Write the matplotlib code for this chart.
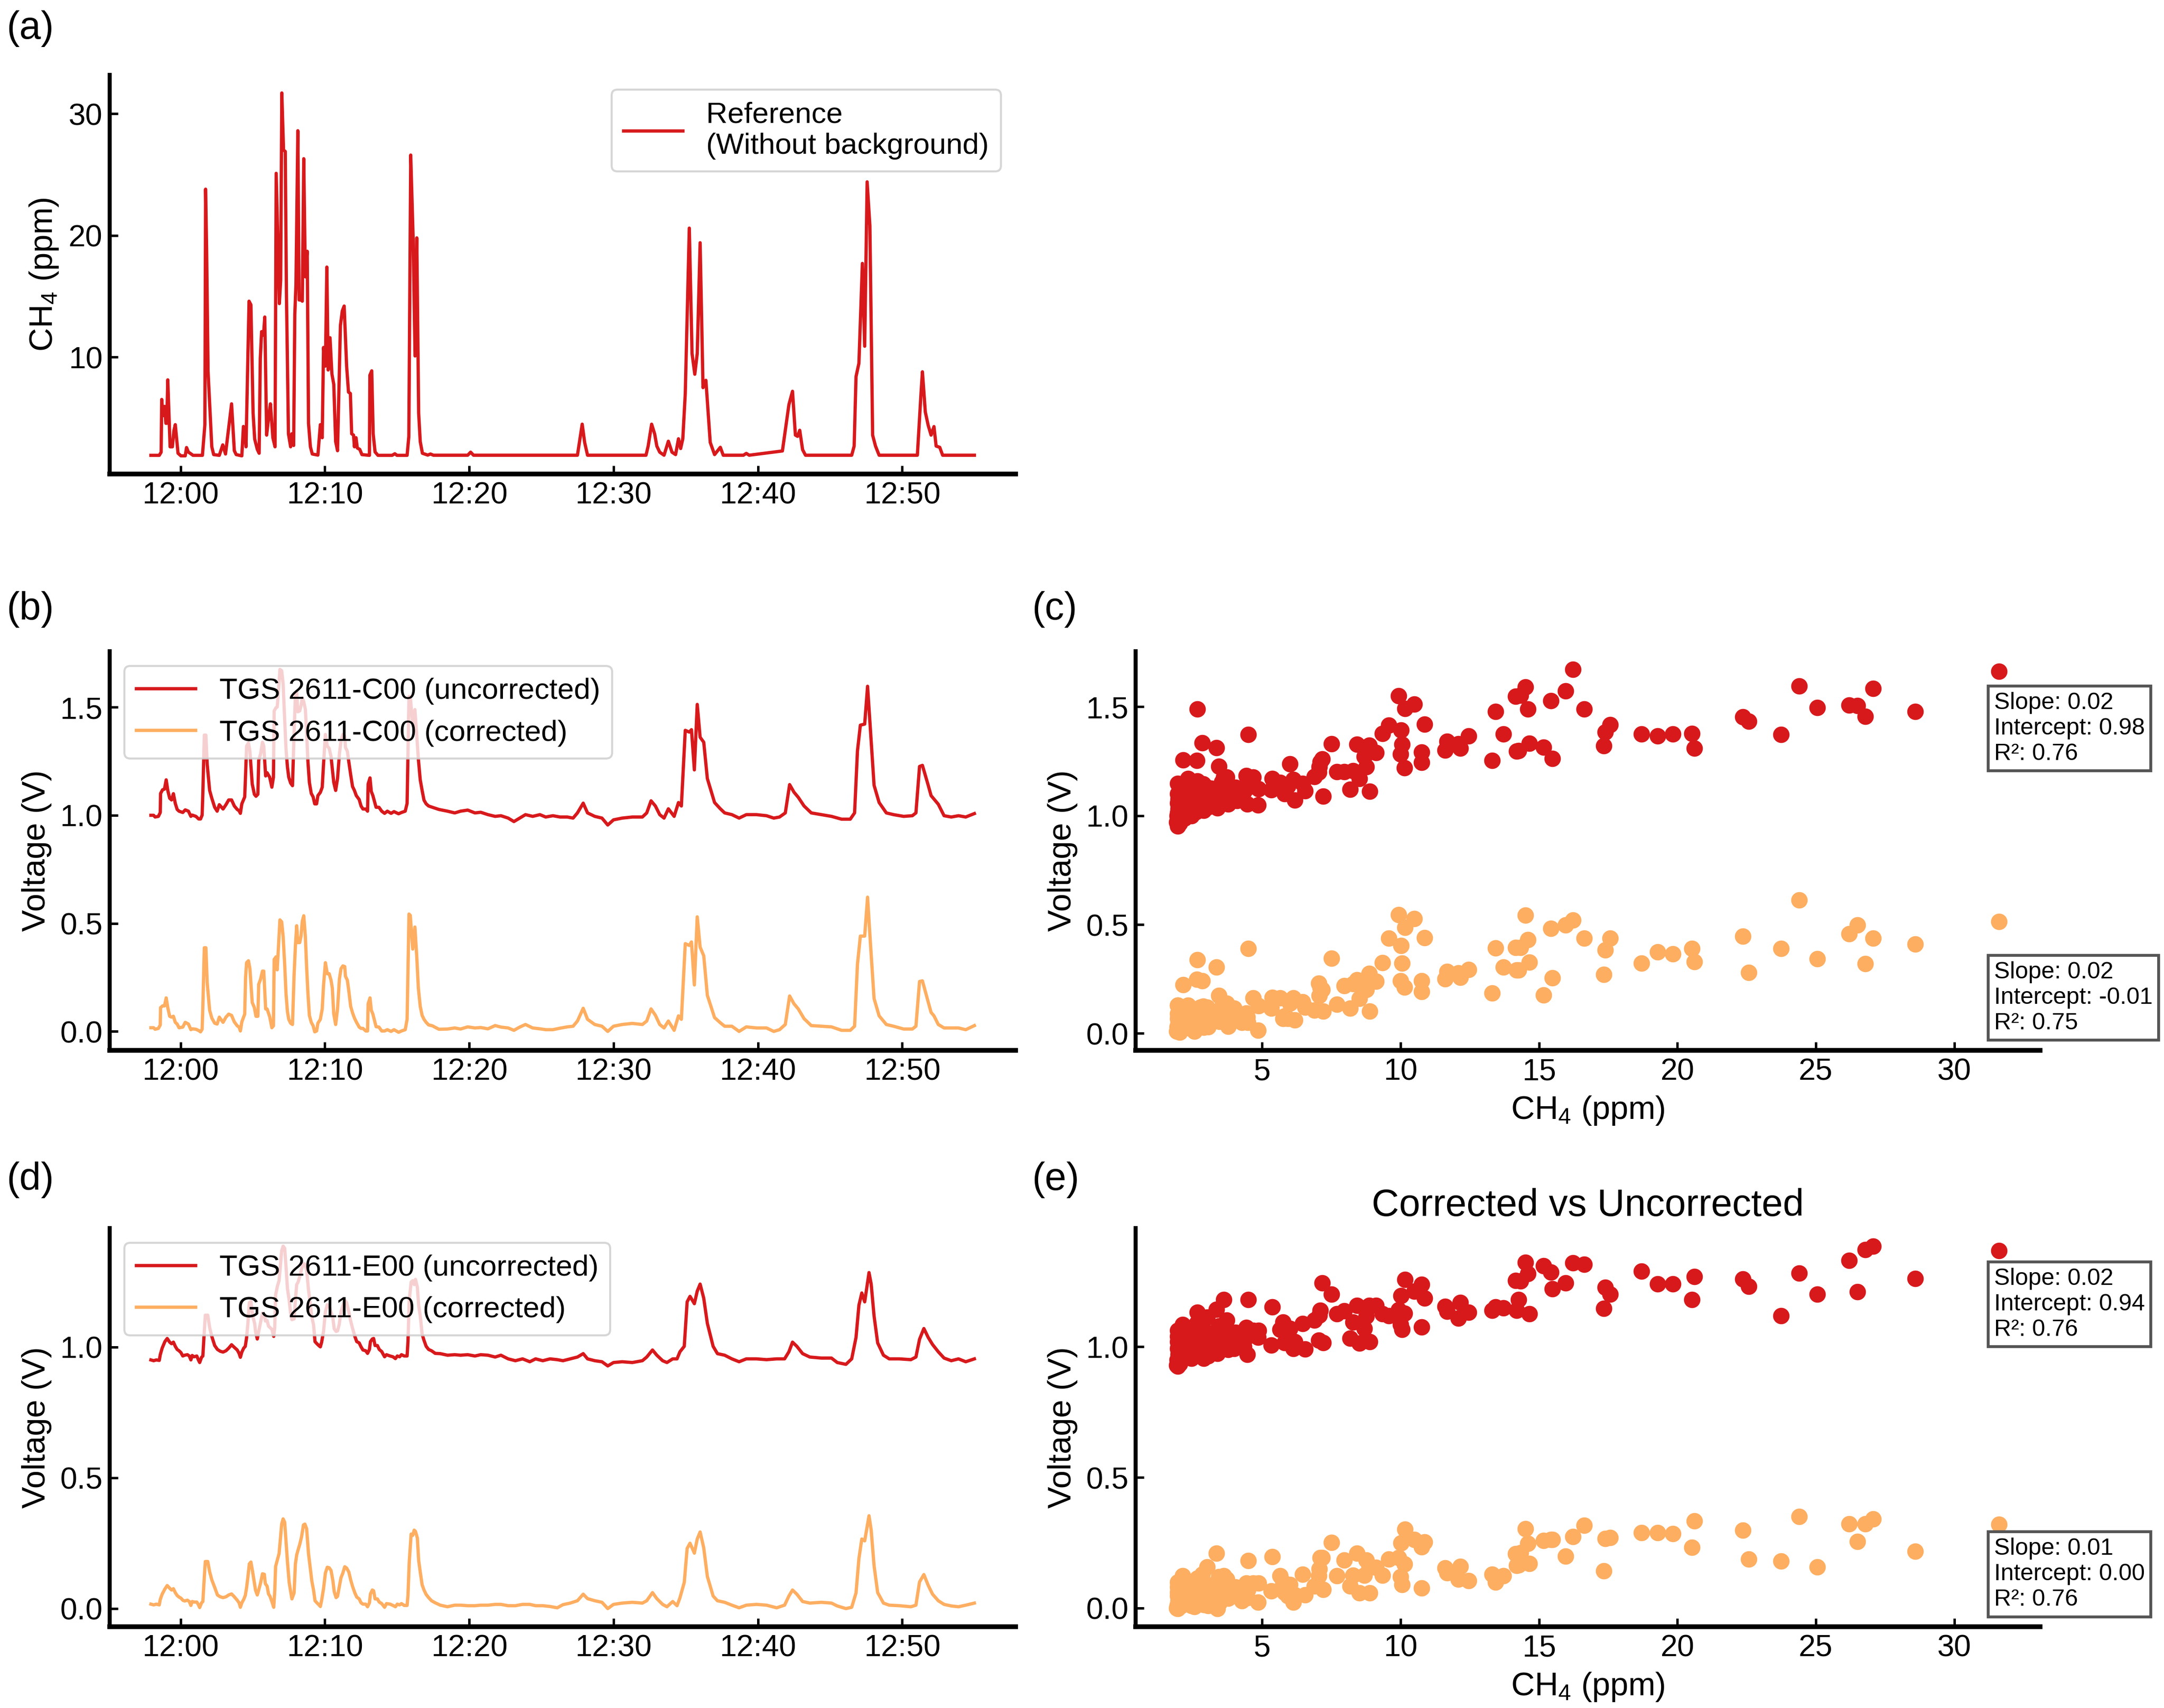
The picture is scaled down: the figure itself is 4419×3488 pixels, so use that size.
import numpy as np
import pandas as pd
import matplotlib
matplotlib.use("Agg")
import matplotlib.pyplot as plt
import matplotlib.dates as mdates
from matplotlib.ticker import MultipleLocator

plt.rcParams['font.family'] = ['Liberation Sans', 'DejaVu Sans']
plt.rcParams['mathtext.fontset'] = 'custom'
plt.rcParams['mathtext.rm'] = 'Liberation Sans'
plt.rcParams['mathtext.it'] = 'Liberation Sans:italic'
plt.rcParams['mathtext.bf'] = 'Liberation Sans:bold'

RED = '#d7191c'
ORANGE = '#fdae61'

# ---- reference CH4 (minutes after 12:00, ppm) ----
T_CH4 = [-2.05, -1.47, -1.34, -1.30, -1.21, -1.10, -1.01, -0.95, -0.88, -0.72,
         -0.56, -0.46, -0.36, -0.23, -0.17, 0.03, 0.33, 0.42, 0.55, 0.68,
         0.87, 1.52, 1.69, 1.74, 1.81, 1.91, 2.17, 2.30, 2.69, 2.93,
         3.12, 3.54, 3.73, 3.86, 4.25, 4.36, 4.45, 4.54, 4.75, 4.88,
         5.03, 5.14, 5.32, 5.45, 5.53, 5.62, 5.75, 5.84, 5.97, 6.10,
         6.23, 6.40, 6.55, 6.63, 6.75, 6.85, 6.94, 7.02, 7.14, 7.26,
         7.34, 7.48, 7.63, 7.71, 7.84, 7.92, 8.00, 8.13, 8.22, 8.35,
         8.44, 8.54, 8.65, 8.78, 8.87, 9.00, 9.13, 9.52, 9.69, 9.82,
         9.91, 10.04, 10.14, 10.23, 10.36, 10.49, 10.62, 10.75, 10.88, 11.08,
         11.21, 11.34, 11.51, 11.64, 11.77, 11.86, 11.99, 12.05, 12.16, 12.25,
         12.42, 12.57, 13.09, 13.12, 13.25, 13.35, 13.48, 13.68, 14.66, 14.85,
         15.00, 15.70, 15.82, 15.95, 16.12, 16.25, 16.37, 16.50, 16.61, 16.76,
         17.13, 17.32, 17.52, 19.90, 20.10, 20.30, 27.50, 27.83, 28.00, 28.20,
         32.25, 32.40, 32.64, 32.85, 33.00, 33.20, 33.50, 33.80, 34.05, 34.30,
         34.50, 34.65, 34.80, 34.97, 35.25, 35.44, 35.63, 35.80, 36.00, 36.20,
         36.40, 36.70, 37.00, 37.40, 37.60, 39.00, 39.20, 39.40, 41.70, 42.15,
         42.40, 42.60, 42.75, 42.90, 43.10, 43.30, 46.50, 46.67, 46.80, 47.00,
         47.24, 47.40, 47.57, 47.76, 47.95, 48.15, 48.40, 51.05, 51.30, 51.40,
         51.60, 51.80, 52.00, 52.20, 52.35, 52.60, 52.80, 55.00]
CH4 = [1.94, 1.94, 2.2, 6.53, 5.2, 5.96, 4.57, 4.57, 8.14, 2.64,
       2.64, 3.93, 4.46, 2.86, 2.11, 1.9, 1.9, 2.58, 2.2, 2.1,
       1.94, 1.94, 4.46, 23.8, 18.9, 8.84, 2.64, 2.0, 1.94, 2.8,
       2.05, 6.17, 2.32, 2.0, 1.9, 4.31, 4.14, 2.64, 14.6, 14.3,
       5.42, 3.28, 2.43, 2.11, 9.91, 12.1, 11.8, 13.3, 3.6, 5.0,
       6.17, 3.39, 2.64, 25.1, 19.3, 14.4, 16.3, 31.7, 27.0, 26.9,
       15.3, 3.71, 2.64, 3.71, 2.75, 13.5, 16.0, 28.6, 14.7, 14.7,
       14.6, 26.3, 16.6, 18.7, 4.57, 2.64, 2.05, 1.96, 4.46, 3.39,
       10.8, 9.27, 17.4, 8.95, 11.6, 8.63, 7.77, 3.07, 2.32, 12.6,
       13.8, 14.2, 9.27, 7.13, 7.02, 3.71, 3.6, 2.64, 3.39, 2.54,
       2.43, 2.0, 1.94, 8.52, 8.88, 3.71, 2.22, 1.94, 1.94, 2.07,
       1.94, 1.94, 3.5, 26.6, 19.7, 10.1, 19.8, 5.42, 3.07, 2.11,
       1.96, 2.05, 1.95, 1.95, 2.2, 1.95, 1.95, 4.5, 3.0, 1.95,
       1.95, 2.7, 4.5, 3.7, 2.7, 2.2, 1.95, 3.1, 2.2, 2.0,
       3.3, 2.5, 3.3, 7.0, 20.6, 10.3, 8.6, 10.3, 19.4, 7.5,
       8.1, 3.0, 2.0, 2.6, 1.95, 1.95, 2.1, 1.95, 2.3, 6.1,
       7.2, 3.6, 3.5, 4.0, 2.4, 1.95, 1.95, 2.7, 8.4, 9.5,
       17.7, 10.9, 24.4, 20.8, 3.6, 2.7, 1.95, 1.95, 7.0, 8.8,
       5.5, 4.4, 3.6, 4.3, 2.7, 2.6, 1.95, 1.95]

# ---- TGS 2611-C00 (V) ----
T_C00 = [-2.05, -1.86, -1.76, -1.53, -1.40, -1.38, -1.24, -1.11, -0.99, -0.88,
         -0.75, -0.62, -0.49, -0.36, -0.23, -0.10, 0.16, 0.33, 0.55, 0.72,
         0.81, 1.07, 1.26, 1.39, 1.50, 1.55, 1.65, 1.76, 1.85, 2.02,
         2.17, 2.37, 2.54, 2.69, 2.95, 3.15, 3.34, 3.54, 3.73, 3.93,
         4.06, 4.15, 4.25, 4.45, 4.51, 4.58, 4.71, 4.81, 4.97, 5.12,
         5.23, 5.36, 5.42, 5.55, 5.68, 5.77, 5.90, 6.00, 6.18, 6.33,
         6.44, 6.49, 6.62, 6.70, 6.79, 6.89, 7.01, 7.11, 7.22, 7.31,
         7.41, 7.50, 7.63, 7.76, 7.87, 7.96, 8.05, 8.13, 8.26, 8.35,
         8.44, 8.54, 8.65, 8.74, 8.83, 8.93, 9.06, 9.19, 9.30, 9.43,
         9.52, 9.69, 9.82, 9.91, 10.04, 10.17, 10.30, 10.43, 10.52, 10.62,
         10.75, 10.88, 11.01, 11.12, 11.25, 11.38, 11.43, 11.56, 11.66, 11.79,
         11.92, 12.05, 12.18, 12.38, 12.51, 12.64, 12.84, 12.96, 13.00, 13.13,
         13.22, 13.33, 13.55, 13.75, 13.94, 14.14, 14.33, 14.59, 14.79, 15.11,
         15.31, 15.57, 15.70, 15.83, 15.92, 16.09, 16.24, 16.37, 16.48, 16.61,
         16.74, 16.87, 17.02, 17.19, 17.45, 17.9, 18.5, 19.0, 19.4, 19.9,
         20.4, 20.8, 21.3, 21.8, 22.2, 22.7, 23.1, 23.5, 23.9, 24.4,
         24.9, 25.3, 25.8, 26.3, 26.8, 27.2, 27.5, 27.9, 28.2, 28.7,
         29.2, 29.6, 30.0, 30.6, 31.3, 32.0, 32.3, 32.6, 32.9, 33.2,
         33.5, 33.8, 34.2, 34.5, 34.7, 34.97, 35.25, 35.4, 35.6, 35.8,
         36.0, 36.25, 36.5, 37.0, 37.4, 37.7, 38.2, 38.7, 39.2, 39.9,
         40.6, 41.1, 41.5, 41.9, 42.2, 42.5, 42.8, 43.2, 43.7, 44.4,
         45.1, 45.8, 46.4, 46.7, 46.9, 47.1, 47.4, 47.6, 47.8, 48.05,
         48.4, 48.9, 49.4, 50.1, 50.7, 50.95, 51.2, 51.4, 51.8, 52.0,
         52.2, 52.5, 52.9, 53.4, 53.9, 54.4, 55.0]
C00_UNC = [1.000, 1.000, 0.992, 0.995, 1.013, 1.101, 1.118, 1.121, 1.164, 1.115,
           1.079, 1.071, 1.100, 1.055, 1.027, 1.019, 1.013, 1.025, 1.019, 0.995,
           1.001, 0.995, 0.983, 0.983, 1.001, 1.103, 1.371, 1.371, 1.236, 1.115,
           1.079, 1.037, 1.019, 1.049, 1.029, 1.049, 1.071, 1.071, 1.043, 1.027,
           1.021, 1.009, 1.053, 1.085, 1.188, 1.320, 1.335, 1.296, 1.145, 1.097,
           1.088, 1.097, 1.254, 1.284, 1.338, 1.320, 1.182, 1.197, 1.176, 1.130,
           1.176, 1.483, 1.498, 1.501, 1.573, 1.675, 1.669, 1.609, 1.440, 1.308,
           1.224, 1.176, 1.149, 1.137, 1.380, 1.549, 1.573, 1.479, 1.483, 1.507,
           1.543, 1.525, 1.491, 1.380, 1.248, 1.152, 1.101, 1.085, 1.053, 1.053,
           1.091, 1.106, 1.130, 1.236, 1.374, 1.320, 1.310, 1.272, 1.214, 1.152,
           1.115, 1.170, 1.284, 1.344, 1.374, 1.366, 1.314, 1.296, 1.248, 1.188,
           1.133, 1.115, 1.091, 1.073, 1.043, 1.029, 1.029, 1.019, 1.145, 1.173,
           1.110, 1.091, 1.037, 1.037, 1.019, 1.009, 1.019, 1.009, 1.017, 1.007,
           1.013, 1.019, 1.055, 1.549, 1.549, 1.416, 1.489, 1.368, 1.260, 1.164,
           1.115, 1.070, 1.053, 1.043, 1.037, 1.027, 1.019, 1.011, 1.019, 1.024,
           1.011, 1.014, 1.003, 0.995, 0.998, 0.987, 0.971, 0.987, 1.003, 0.995,
           1.003, 0.992, 0.998, 0.992, 0.992, 0.987, 1.011, 1.056, 1.011, 0.995,
           0.987, 0.955, 0.979, 0.987, 0.992, 0.992, 1.011, 1.067, 1.043, 1.003,
           0.987, 1.030, 0.995, 1.059, 1.043, 1.393, 1.385, 1.396, 1.210, 1.513,
           1.361, 1.338, 1.170, 1.059, 1.030, 1.011, 1.003, 0.987, 1.003, 1.003,
           0.998, 0.987, 0.992, 1.011, 1.142, 1.107, 1.083, 1.043, 1.011, 1.003,
           0.995, 0.982, 0.982, 1.011, 1.298, 1.417, 1.422, 1.597, 1.393, 1.139,
           1.059, 1.011, 1.003, 0.995, 0.998, 1.011, 1.226, 1.231, 1.139, 1.091,
           1.075, 1.051, 0.998, 0.992, 0.998, 0.992, 1.008]
C00_COR = [0.017, 0.017, 0.010, 0.014, 0.030, 0.110, 0.118, 0.118, 0.155, 0.110,
           0.070, 0.066, 0.070, 0.042, 0.034, 0.017, 0.020, 0.042, 0.034, 0.008,
           0.012, 0.010, 0.004, -0.002, 0.010, 0.116, 0.387, 0.387, 0.225, 0.098,
           0.062, 0.038, 0.034, 0.066, 0.042, 0.066, 0.080, 0.074, 0.044, 0.026,
           0.020, 0.002, 0.044, 0.080, 0.249, 0.318, 0.327, 0.290, 0.134, 0.110,
           0.070, 0.070, 0.218, 0.242, 0.279, 0.279, 0.104, 0.104, 0.068, 0.017,
           0.026, 0.333, 0.345, 0.285, 0.393, 0.516, 0.507, 0.441, 0.309, 0.176,
           0.092, 0.056, 0.038, 0.032, 0.261, 0.393, 0.489, 0.411, 0.411, 0.441,
           0.510, 0.535, 0.441, 0.297, 0.176, 0.074, 0.042, 0.026, -0.002, 0.002,
           0.038, 0.056, 0.104, 0.212, 0.318, 0.267, 0.267, 0.237, 0.200, 0.080,
           0.032, 0.104, 0.242, 0.290, 0.303, 0.300, 0.255, 0.237, 0.188, 0.116,
           0.086, 0.062, 0.044, 0.020, 0.014, 0.014, 0.002, 0.002, 0.128, 0.155,
           0.098, 0.080, 0.022, 0.020, 0.002, 0.002, 0.008, 0.000, 0.008, -0.004,
           0.002, 0.008, 0.056, 0.543, 0.537, 0.381, 0.483, 0.345, 0.200, 0.116,
           0.074, 0.056, 0.042, 0.030, 0.026, 0.010, 0.011, 0.016, 0.011, 0.021,
           0.016, 0.018, 0.012, 0.027, 0.020, 0.016, 0.005, 0.020, 0.032, 0.016,
           0.012, 0.008, 0.008, 0.015, 0.021, 0.024, 0.048, 0.107, 0.056, 0.032,
           0.024, 0.000, 0.024, 0.032, 0.037, 0.032, 0.048, 0.104, 0.075, 0.032,
           0.016, 0.048, 0.005, 0.072, 0.056, 0.406, 0.398, 0.414, 0.215, 0.530,
           0.390, 0.350, 0.167, 0.064, 0.040, 0.024, 0.024, 0.000, 0.021, 0.016,
           0.016, 0.000, 0.008, 0.032, 0.164, 0.128, 0.104, 0.059, 0.027, 0.024,
           0.021, 0.005, 0.005, 0.024, 0.311, 0.441, 0.441, 0.621, 0.406, 0.152,
           0.072, 0.032, 0.024, 0.011, 0.011, 0.024, 0.231, 0.234, 0.136, 0.088,
           0.072, 0.032, 0.016, 0.016, 0.016, 0.008, 0.027]

# ---- TGS 2611-E00 (V) ----
T_E00 = [-2.05, -1.86, -1.67, -1.47, -1.40, -1.27, -1.08, -0.92, -0.75, -0.62,
         -0.49, -0.36, -0.23, -0.10, 0.03, 0.16, 0.29, 0.48, 0.61, 0.72,
         0.81, 0.94, 1.13, 1.24, 1.33, 1.46, 1.55, 1.65, 1.72, 1.89,
         2.02, 2.17, 2.37, 2.56, 2.76, 2.95, 3.15, 3.34, 3.54, 3.73,
         3.93, 4.06, 4.15, 4.25, 4.38, 4.49, 4.58, 4.67, 4.77, 4.88,
         5.00, 5.14, 5.20, 5.32, 5.42, 5.55, 5.68, 5.81, 5.88, 6.00,
         6.10, 6.20, 6.33, 6.46, 6.53, 6.59, 6.72, 6.83, 6.92, 7.01,
         7.11, 7.22, 7.31, 7.41, 7.53, 7.63, 7.72, 7.87, 7.96, 8.05,
         8.15, 8.26, 8.39, 8.52, 8.62, 8.74, 8.87, 9.00, 9.10, 9.22,
         9.32, 9.45, 9.58, 9.69, 9.78, 9.91, 10.04, 10.17, 10.30, 10.43,
         10.56, 10.65, 10.78, 10.88, 10.99, 11.12, 11.25, 11.38, 11.51, 11.66,
         11.79, 11.92, 12.08, 12.21, 12.38, 12.51, 12.64, 12.83, 12.96, 13.09,
         13.16, 13.29, 13.38, 13.48, 13.64, 13.77, 13.94, 14.14, 14.27, 14.52,
         14.72, 14.89, 15.02, 15.18, 15.31, 15.50, 15.70, 15.76, 15.85, 15.98,
         16.09, 16.19, 16.28, 16.41, 16.50, 16.61, 16.74, 16.87, 17.02, 17.19,
         17.39, 17.65, 18.0, 18.5, 19.0, 19.4, 19.9, 20.4, 20.8, 21.3,
         21.8, 22.2, 22.7, 23.2, 23.7, 24.2, 24.6, 25.1, 25.6, 26.1,
         26.5, 27.0, 27.5, 27.9, 28.2, 28.7, 29.2, 29.6, 30.0, 30.6,
         31.3, 32.0, 32.3, 32.7, 33.0, 33.4, 33.7, 34.1, 34.4, 34.6,
         34.9, 35.1, 35.3, 35.6, 35.8, 36.0, 36.25, 36.5, 36.9, 37.2,
         37.7, 38.2, 38.7, 39.2, 39.9, 40.6, 41.3, 41.85, 42.15, 42.4,
         42.7, 43.1, 43.6, 44.4, 45.1, 45.5, 46.1, 46.5, 46.8, 47.0,
         47.2, 47.4, 47.7, 47.85, 48.05, 48.3, 48.7, 49.1, 49.8, 50.6,
         50.95, 51.2, 51.5, 51.8, 52.1, 52.5, 52.9, 53.4, 53.9, 54.4,
         55.0]
E00_UNC = [0.951, 0.948, 0.951, 0.949, 0.971, 0.996, 1.021, 1.033, 1.019, 1.013,
           1.019, 1.003, 0.991, 0.986, 0.979, 0.966, 0.969, 0.971, 0.966, 0.951,
           0.968, 0.963, 0.966, 0.951, 0.941, 0.961, 0.966, 1.060, 1.122, 1.122,
           1.075, 1.041, 1.006, 0.991, 0.984, 0.981, 0.986, 0.996, 1.009, 0.999,
           0.989, 0.976, 0.961, 0.981, 0.996, 1.003, 1.036, 1.090, 1.170, 1.175,
           1.120, 1.090, 1.060, 1.031, 1.060, 1.095, 1.130, 1.125, 1.100, 1.102,
           1.080, 1.075, 1.068, 1.041, 1.075, 1.200, 1.234, 1.254, 1.309, 1.369,
           1.386, 1.378, 1.309, 1.224, 1.180, 1.130, 1.105, 1.108, 1.180, 1.239,
           1.249, 1.269, 1.299, 1.319, 1.317, 1.294, 1.219, 1.160, 1.115, 1.085,
           1.021, 1.013, 1.006, 1.001, 1.019, 1.060, 1.135, 1.162, 1.158, 1.135,
           1.110, 1.070, 1.060, 1.062, 1.085, 1.135, 1.158, 1.180, 1.170, 1.135,
           1.100, 1.072, 1.041, 1.021, 1.016, 1.001, 0.989, 0.986, 0.976, 0.991,
           1.021, 1.031, 1.033, 1.006, 1.006, 0.991, 0.983, 0.963, 0.971, 0.966,
           0.963, 0.956, 0.966, 0.963, 0.971, 0.966, 0.966, 1.021, 1.180, 1.249,
           1.254, 1.239, 1.259, 1.229, 1.160, 1.120, 1.050, 1.026, 1.003, 0.991,
           0.986, 0.976, 0.975, 0.969, 0.971, 0.969, 0.971, 0.966, 0.971, 0.969,
           0.962, 0.969, 0.955, 0.948, 0.955, 0.944, 0.955, 0.948, 0.955, 0.952,
           0.948, 0.955, 0.962, 0.975, 0.955, 0.948, 0.944, 0.928, 0.941, 0.944,
           0.941, 0.948, 0.962, 0.989, 0.969, 0.948, 0.941, 0.955, 0.955, 0.982,
           1.003, 1.173, 1.194, 1.166, 1.214, 1.241, 1.187, 1.091, 1.003, 0.975,
           0.969, 0.955, 0.944, 0.955, 0.955, 0.952, 0.955, 0.955, 0.982, 1.019,
           1.003, 0.975, 0.962, 0.958, 0.958, 0.941, 0.934, 0.955, 1.037, 1.160,
           1.207, 1.173, 1.285, 1.241, 1.119, 1.016, 0.969, 0.955, 0.955, 0.952,
           0.962, 1.030, 1.071, 1.037, 1.010, 0.982, 0.958, 0.948, 0.955, 0.944,
           0.955]
E00_COR = [0.017, 0.014, 0.017, 0.014, 0.035, 0.055, 0.075, 0.088, 0.078, 0.071,
           0.076, 0.061, 0.050, 0.044, 0.040, 0.032, 0.029, 0.032, 0.027, 0.012,
           0.027, 0.025, 0.025, 0.015, 0.004, 0.022, 0.027, 0.120, 0.180, 0.180,
           0.141, 0.110, 0.081, 0.052, 0.045, 0.042, 0.045, 0.052, 0.056, 0.045,
           0.032, 0.022, 0.005, 0.022, 0.035, 0.050, 0.080, 0.120, 0.171, 0.178,
           0.140, 0.091, 0.070, 0.052, 0.071, 0.098, 0.133, 0.131, 0.095, 0.086,
           0.056, 0.047, 0.027, 0.005, 0.066, 0.161, 0.188, 0.210, 0.265, 0.323,
           0.343, 0.330, 0.260, 0.180, 0.100, 0.066, 0.037, 0.060, 0.170, 0.205,
           0.225, 0.245, 0.275, 0.320, 0.323, 0.305, 0.210, 0.150, 0.105, 0.070,
           0.030, 0.022, 0.015, 0.008, 0.032, 0.076, 0.136, 0.158, 0.156, 0.146,
           0.106, 0.065, 0.042, 0.047, 0.080, 0.118, 0.136, 0.160, 0.155, 0.140,
           0.110, 0.085, 0.060, 0.044, 0.037, 0.022, 0.017, 0.017, 0.007, 0.022,
           0.056, 0.071, 0.068, 0.037, 0.037, 0.025, 0.019, 0.005, 0.019, 0.017,
           0.012, 0.007, 0.017, 0.014, 0.019, 0.012, 0.012, 0.050, 0.180, 0.285,
           0.280, 0.300, 0.295, 0.270, 0.185, 0.140, 0.091, 0.071, 0.054, 0.042,
           0.030, 0.022, 0.013, 0.007, 0.013, 0.013, 0.011, 0.011, 0.013, 0.013,
           0.016, 0.016, 0.011, 0.011, 0.016, 0.016, 0.011, 0.011, 0.008, 0.003,
           0.015, 0.021, 0.030, 0.055, 0.038, 0.030, 0.024, 0.000, 0.016, 0.021,
           0.024, 0.021, 0.030, 0.061, 0.038, 0.016, 0.007, 0.027, 0.011, 0.041,
           0.100, 0.230, 0.250, 0.212, 0.266, 0.293, 0.232, 0.123, 0.048, 0.030,
           0.024, 0.013, 0.003, 0.013, 0.016, 0.013, 0.003, 0.013, 0.048, 0.071,
           0.055, 0.027, 0.021, 0.024, 0.021, 0.010, 0.000, 0.005, 0.060, 0.191,
           0.266, 0.259, 0.355, 0.300, 0.164, 0.061, 0.021, 0.013, 0.011, 0.007,
           0.013, 0.102, 0.130, 0.089, 0.055, 0.030, 0.016, 0.010, 0.007, 0.013,
           0.021]

# ---- scatter pairs: CH4 (ppm) vs sensor voltage ----
SC_CH4 = [1.92, 1.93, 1.95, 1.95, 1.95, 1.95, 1.96, 1.98, 2.00, 2.02,
          2.05, 2.08, 2.10, 2.13, 2.14, 2.15, 2.20, 2.25, 2.30, 2.33,
          2.37, 2.37, 2.42, 2.45, 2.50, 2.55, 2.61, 2.65, 2.67, 2.67,
          2.72, 2.77, 2.83, 2.89, 2.95, 3.01, 3.10, 3.18, 3.25, 3.35,
          3.38, 3.44, 3.50, 3.58, 3.62, 3.73, 3.78, 3.90, 3.99, 4.10,
          4.27, 4.43, 4.50, 4.47, 4.49, 4.68, 4.86, 4.88, 5.34, 5.36,
          5.65, 5.75, 5.81, 5.93, 6.00, 6.13, 6.18, 6.46, 6.56, 6.89,
          7.05, 7.07, 7.11, 7.17, 7.21, 7.51, 7.71, 7.96, 8.18, 8.28,
          8.43, 8.51, 8.69, 8.76, 8.87, 8.89, 9.11, 9.35, 9.58, 9.93,
          10.00, 10.02, 10.06, 10.15, 10.16, 10.49, 10.77, 10.77, 10.86, 11.62,
          11.69, 12.09, 12.16, 12.46, 13.31, 13.44, 13.71, 14.16, 14.20, 14.26,
          14.34, 14.52, 14.60, 14.65, 15.17, 15.43, 15.49, 15.96, 16.22, 16.64,
          17.34, 17.40, 17.58, 18.70, 19.28, 19.83, 20.53, 20.61, 22.36, 22.57,
          23.75, 24.40, 25.06, 26.21, 26.50, 26.78, 27.07, 28.59, 31.62, 2.03,
          2.18, 2.28, 2.48, 2.58, 2.80, 3.05, 3.15, 3.45, 3.65, 3.85,
          4.05, 4.20, 4.35, 2.40, 2.88, 3.55, 1.97, 2.06, 2.22]
SC_C00_UNC = [0.970, 1.000, 0.953, 1.012, 1.059, 1.100, 1.148, 1.030, 1.080, 1.120,
              1.040, 0.990, 1.070, 1.059, 1.100, 1.256, 0.988, 1.020, 1.130, 1.171,
              1.083, 1.035, 1.060, 1.000, 1.100, 1.050, 1.018, 1.254, 1.490, 1.159,
              1.080, 1.100, 1.334, 1.024, 1.070, 1.130, 1.090, 1.059, 1.110, 1.313,
              1.035, 1.227, 1.080, 1.095, 1.177, 1.177, 1.053, 1.080, 1.112, 1.070,
              1.071, 1.183, 1.372, 1.053, 1.130, 1.177, 1.050, 1.124, 1.118, 1.171,
              1.153, 1.120, 1.100, 1.136, 1.238, 1.165, 1.071, 1.148, 1.115, 1.180,
              1.200, 1.224, 1.248, 1.260, 1.089, 1.330, 1.201, 1.201, 1.120, 1.207,
              1.327, 1.171, 1.271, 1.224, 1.324, 1.112, 1.289, 1.378, 1.415, 1.551,
              1.283, 1.392, 1.327, 1.221, 1.492, 1.513, 1.293, 1.244, 1.419, 1.301,
              1.342, 1.330, 1.309, 1.366, 1.254, 1.478, 1.374, 1.549, 1.297, 1.298,
              1.553, 1.592, 1.489, 1.333, 1.314, 1.528, 1.263, 1.572, 1.672, 1.489,
              1.322, 1.385, 1.417, 1.374, 1.365, 1.374, 1.377, 1.310, 1.454, 1.433,
              1.373, 1.595, 1.497, 1.508, 1.505, 1.457, 1.584, 1.478, 1.664, 0.965,
              1.045, 1.075, 1.030, 1.115, 1.050, 1.040, 1.125, 1.050, 1.120, 1.100,
              1.130, 1.095, 1.110, 1.150, 1.145, 1.155, 1.075, 1.140, 1.115]
SC_C00_COR = [0.010, 0.030, 0.009, 0.068, 0.129, 0.090, 0.129, 0.050, 0.100, 0.120,
              0.060, 0.020, 0.070, 0.050, 0.120, 0.224, 0.033, 0.050, 0.115, 0.130,
              0.090, 0.033, 0.060, 0.020, 0.080, 0.010, 0.040, 0.247, 0.339, 0.092,
              0.050, 0.120, 0.242, 0.027, 0.080, 0.121, 0.050, 0.080, 0.100, 0.304,
              0.068, 0.174, 0.100, 0.140, 0.130, 0.139, 0.033, 0.090, 0.115, 0.070,
              0.050, 0.092, 0.389, 0.074, 0.050, 0.163, 0.015, 0.127, 0.115, 0.165,
              0.163, 0.068, 0.080, 0.068, 0.139, 0.163, 0.062, 0.145, 0.121, 0.106,
              0.231, 0.174, 0.210, 0.200, 0.103, 0.345, 0.133, 0.218, 0.115, 0.227,
              0.245, 0.160, 0.233, 0.200, 0.274, 0.101, 0.239, 0.325, 0.436, 0.546,
              0.242, 0.404, 0.322, 0.212, 0.487, 0.526, 0.242, 0.192, 0.440, 0.251,
              0.283, 0.278, 0.257, 0.292, 0.186, 0.393, 0.304, 0.394, 0.290, 0.290,
              0.394, 0.542, 0.430, 0.327, 0.175, 0.481, 0.255, 0.497, 0.521, 0.438,
              0.271, 0.382, 0.438, 0.323, 0.374, 0.366, 0.390, 0.330, 0.446, 0.279,
              0.390, 0.613, 0.343, 0.457, 0.497, 0.319, 0.438, 0.409, 0.513, 0.005,
              0.045, 0.085, 0.030, 0.105, 0.040, 0.030, 0.095, 0.055, 0.085, 0.060,
              0.100, 0.080, 0.060, 0.105, 0.125, 0.110, 0.040, 0.095, 0.060]
SC_E00_UNC = [0.930, 0.950, 0.926, 0.994, 1.020, 1.062, 1.040, 0.970, 1.000, 0.980,
              1.020, 0.950, 0.985, 1.010, 1.084, 1.050, 0.960, 0.990, 1.030, 1.045,
              1.023, 0.970, 1.000, 0.955, 1.040, 0.980, 0.990, 1.090, 1.131, 1.060,
              1.000, 1.043, 1.100, 0.955, 1.020, 1.113, 1.000, 1.004, 1.050, 1.143,
              0.974, 1.080, 1.010, 1.033, 1.181, 1.101, 0.990, 1.043, 0.994, 1.020,
              1.004, 1.074, 1.181, 0.970, 1.040, 1.062, 1.036, 1.062, 1.006, 1.152,
              1.067, 1.094, 1.016, 1.040, 1.069, 0.994, 1.020, 1.089, 0.992, 1.101,
              1.025, 1.121, 1.140, 1.245, 1.016, 1.201, 1.126, 1.138, 1.033, 1.094,
              1.158, 1.013, 1.069, 1.116, 1.158, 1.020, 1.158, 1.126, 1.119, 1.142,
              1.084, 1.196, 1.067, 1.128, 1.258, 1.212, 1.238, 1.075, 1.187, 1.155,
              1.136, 1.109, 1.170, 1.131, 1.140, 1.152, 1.148, 1.253, 1.140, 1.180,
              1.252, 1.323, 1.280, 1.126, 1.310, 1.285, 1.221, 1.244, 1.321, 1.316,
              1.146, 1.228, 1.201, 1.289, 1.241, 1.241, 1.180, 1.269, 1.259, 1.231,
              1.119, 1.282, 1.201, 1.330, 1.211, 1.371, 1.385, 1.262, 1.367, 0.935,
              0.975, 1.005, 0.965, 1.015, 0.985, 0.965, 1.030, 0.990, 1.045, 1.010,
              1.055, 1.025, 1.000, 1.065, 1.070, 1.075, 1.000, 1.035, 0.995]
SC_E00_COR = [0.000, 0.010, -0.002, 0.046, 0.080, 0.060, 0.100, 0.030, 0.070, 0.040,
              0.080, 0.010, 0.050, 0.040, 0.124, 0.095, 0.020, 0.060, 0.085, 0.100,
              0.076, 0.030, 0.050, 0.010, 0.070, 0.005, 0.060, 0.105, 0.115, 0.080,
              0.040, 0.115, 0.130, 0.012, 0.060, 0.157, 0.030, 0.056, 0.090, 0.209,
              -0.002, 0.120, 0.070, 0.090, 0.124, 0.110, 0.037, 0.060, 0.076, 0.050,
              0.027, 0.095, 0.181, 0.040, 0.070, 0.095, 0.022, 0.095, 0.066, 0.196,
              0.124, 0.100, 0.060, 0.046, 0.090, 0.022, 0.050, 0.129, 0.051, 0.085,
              0.124, 0.149, 0.193, 0.193, 0.071, 0.251, 0.124, 0.183, 0.085, 0.126,
              0.209, 0.058, 0.126, 0.183, 0.156, 0.058, 0.156, 0.126, 0.188, 0.193,
              0.120, 0.249, 0.090, 0.168, 0.302, 0.263, 0.234, 0.076, 0.253, 0.154,
              0.134, 0.110, 0.159, 0.105, 0.129, 0.100, 0.124, 0.207, 0.163, 0.164,
              0.211, 0.303, 0.248, 0.170, 0.259, 0.263, 0.263, 0.198, 0.273, 0.316,
              0.143, 0.266, 0.269, 0.289, 0.289, 0.284, 0.232, 0.334, 0.297, 0.187,
              0.180, 0.351, 0.157, 0.323, 0.255, 0.323, 0.341, 0.218, 0.320, 0.005,
              0.035, 0.045, 0.020, 0.065, 0.025, 0.010, 0.075, 0.020, 0.100, 0.045,
              0.080, 0.060, 0.040, 0.090, 0.090, 0.115, 0.025, 0.070, 0.035]

# regression summaries (slope, intercept, R2) shown beside the scatter panels
STATS_C00 = [(0.02, 0.98, 0.76), (0.02, -0.01, 0.75)]
STATS_E00 = [(0.02, 0.94, 0.76), (0.01, 0.00, 0.76)]

BASE = pd.Timestamp('2023-01-01 12:00')


def to_time(minutes):
    return (BASE + pd.to_timedelta(minutes, unit='min')).to_numpy()


def style(ax):
    for side in ['top', 'right']:
        ax.spines[side].set_visible(False)
    ax.spines['left'].set_linewidth(2.0)
    ax.spines['bottom'].set_linewidth(2.3)
    ax.tick_params(direction='in', length=4, width=1.2, labelsize=15,
                   top=False, right=False)


def time_axis(ax):
    ax.xaxis.set_major_locator(mdates.MinuteLocator(byminute=range(0, 60, 10)))
    ax.xaxis.set_major_formatter(mdates.DateFormatter('%H:%M'))


def stats_box(ax, y, stats):
    slope, icpt, r2 = stats
    ax.text(0.949, y, f"Slope: {slope:.2f}\nIntercept: {icpt:.2f}\nR\u00b2: {r2:.2f}",
            transform=ax.transAxes, ha='left', va='top', fontsize=11.6,
            linespacing=1.2, clip_on=False,
            bbox=dict(boxstyle='square,pad=0.25', fc='white', ec='#555555', lw=1.4))


fig = plt.figure(figsize=(4419 / 300, 3488 / 300), dpi=300)
W, H = 0.4186, 0.2337
ax_a = fig.add_axes([0.0507, 0.7225, W, H])
ax_b = fig.add_axes([0.0507, 0.3850, W, H])
ax_c = fig.add_axes([0.5248, 0.3850, 0.418, H])
ax_d = fig.add_axes([0.0507, 0.0476, W, 0.2334])
ax_e = fig.add_axes([0.5248, 0.0476, 0.418, 0.2334])

lw = 1.6
leg_fs = 14.5

# (a) reference CH4
ax_a.plot(to_time(T_CH4), CH4, color=RED, lw=lw, label='Reference\n(Without background)')
ax_a.set_ylabel('CH$_4$ (ppm)', fontsize=16)
ax_a.yaxis.set_major_locator(MultipleLocator(10))
ax_a.legend(loc='upper right', fontsize=leg_fs)
time_axis(ax_a)

# (b) C00 time series
tc = to_time(T_C00)
ax_b.plot(tc, C00_UNC, color=RED, lw=lw, label='TGS 2611-C00 (uncorrected)')
ax_b.plot(tc, C00_COR, color=ORANGE, lw=lw, label='TGS 2611-C00 (corrected)')
ax_b.set_ylabel('Voltage (V)', fontsize=16)
ax_b.yaxis.set_major_locator(MultipleLocator(0.5))
ax_b.legend(loc='upper left', fontsize=leg_fs)
time_axis(ax_b)

# (d) E00 time series
te = to_time(T_E00)
ax_d.plot(te, E00_UNC, color=RED, lw=lw, label='TGS 2611-E00 (uncorrected)')
ax_d.plot(te, E00_COR, color=ORANGE, lw=lw, label='TGS 2611-E00 (corrected)')
ax_d.set_ylabel('Voltage (V)', fontsize=16)
ax_d.yaxis.set_major_locator(MultipleLocator(0.5))
ax_d.legend(loc='upper left', fontsize=leg_fs)
time_axis(ax_d)

# (c) C00 scatter
ax_c.scatter(SC_CH4, SC_C00_UNC, s=50, color=RED)
ax_c.scatter(SC_CH4, SC_C00_COR, s=50, color=ORANGE)
ax_c.set_xlabel('CH$_4$ (ppm)', fontsize=16)
ax_c.set_ylabel('Voltage (V)', fontsize=16)
ax_c.yaxis.set_major_locator(MultipleLocator(0.5))
ax_c.xaxis.set_major_locator(MultipleLocator(5))
stats_box(ax_c, 0.898, STATS_C00[0])
stats_box(ax_c, 0.223, STATS_C00[1])

# (e) E00 scatter
ax_e.scatter(SC_CH4, SC_E00_UNC, s=50, color=RED)
ax_e.scatter(SC_CH4, SC_E00_COR, s=50, color=ORANGE)
ax_e.set_xlabel('CH$_4$ (ppm)', fontsize=16)
ax_e.set_ylabel('Voltage (V)', fontsize=16)
ax_e.set_title('Corrected vs Uncorrected', fontsize=18.6)
ax_e.yaxis.set_major_locator(MultipleLocator(0.5))
ax_e.xaxis.set_major_locator(MultipleLocator(5))
stats_box(ax_e, 0.900, STATS_E00[0])
stats_box(ax_e, 0.223, STATS_E00[1])

for ax in [ax_a, ax_b, ax_c, ax_d, ax_e]:
    style(ax)

# panel letters
for txt, x, y in [('(a)', 0.003, 0.994), ('(b)', 0.003, 0.654), ('(c)', 0.4768, 0.654),
                  ('(d)', 0.003, 0.320), ('(e)', 0.4768, 0.320)]:
    fig.text(x, y, txt, fontsize=19, ha='left', va='top')

fig.savefig('out.png', dpi=300)
